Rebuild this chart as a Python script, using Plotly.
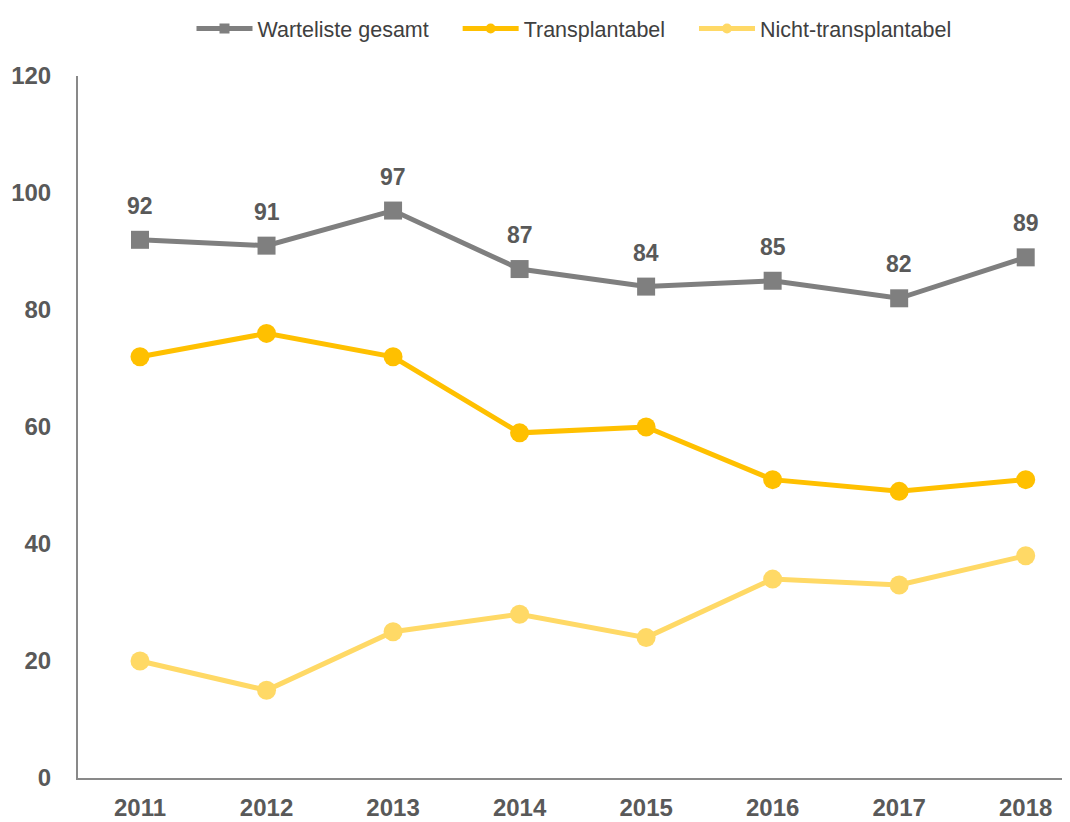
import plotly.graph_objects as go

years = ["2011", "2012", "2013", "2014", "2015", "2016", "2017", "2018"]
gesamt = [92, 91, 97, 87, 84, 85, 82, 89]
transplantabel = [72, 76, 72, 59, 60, 51, 49, 51]
nicht_transplantabel = [20, 15, 25, 28, 24, 34, 33, 38]
y_ticks = [0, 20, 40, 60, 80, 100, 120]
series_names = ["Warteliste gesamt", "Transplantabel", "Nicht-transplantabel"]

xi = list(range(len(years)))

GRAY = "#7F7F7F"
ORANGE = "#FFC000"
LIGHT = "#FFD966"
TXT = "#595959"
FONT = "Liberation Sans, Arial, sans-serif"

fig = go.Figure()

fig.add_trace(go.Scatter(
    x=xi, y=nicht_transplantabel, mode="lines+markers",
    line=dict(color=LIGHT, width=5), marker=dict(symbol="circle", size=19, color=LIGHT),
    showlegend=False, cliponaxis=False))
fig.add_trace(go.Scatter(
    x=xi, y=transplantabel, mode="lines+markers",
    line=dict(color=ORANGE, width=5), marker=dict(symbol="circle", size=19, color=ORANGE),
    showlegend=False, cliponaxis=False))
fig.add_trace(go.Scatter(
    x=xi, y=gesamt, mode="lines+markers",
    line=dict(color=GRAY, width=5), marker=dict(symbol="square", size=18, color=GRAY),
    showlegend=False, cliponaxis=False))

for i, v in zip(xi, gesamt):
    fig.add_annotation(x=i, y=v, text=str(v), showarrow=False, yshift=34,
                       font=dict(family=FONT, size=23, color=TXT, weight="bold"))

# legend-only entries (non-breaking spaces widen the gap between entries)
pad = "\u00a0" * 4
for k, (name, col, sym) in enumerate(zip(series_names, [GRAY, ORANGE, LIGHT],
                                         ["square", "circle", "circle"])):
    fig.add_trace(go.Scatter(
        x=[None], y=[None], mode="lines+markers",
        name=name + (pad if k < 2 else ""),
        line=dict(color=col, width=5), marker=dict(symbol=sym, size=10, color=col)))

# the page body has an 8px default margin, so compensate
fig.update_layout(
    width=1062, height=814,
    margin=dict(l=70, r=0, t=68, b=44, autoexpand=False),
    plot_bgcolor="white", paper_bgcolor="white",
    font=dict(family=FONT, color=TXT),
    legend=dict(orientation="h", x=0.5, xanchor="center", y=1.0, yanchor="top",
                yref="container", font=dict(family=FONT, size=21.5, color="#404040"),
                itemwidth=56, tracegroupgap=0),
    xaxis=dict(range=[-0.49, 7.35], tickvals=xi, ticktext=years, showgrid=False,
               zeroline=False, showline=True, linecolor="#898989", linewidth=2,
               ticks="", ticklabelstandoff=7, automargin=False,
               tickfont=dict(family=FONT, size=24, color=TXT, weight="bold")),
    yaxis=dict(range=[0, 120], tickvals=y_ticks, showgrid=False, zeroline=False,
               showline=True, linecolor="#898989", linewidth=2, ticks="",
               ticklabelstandoff=20, automargin=False,
               tickfont=dict(family=FONT, size=24, color=TXT, weight="bold")),
)

fig.write_html("out.html")
